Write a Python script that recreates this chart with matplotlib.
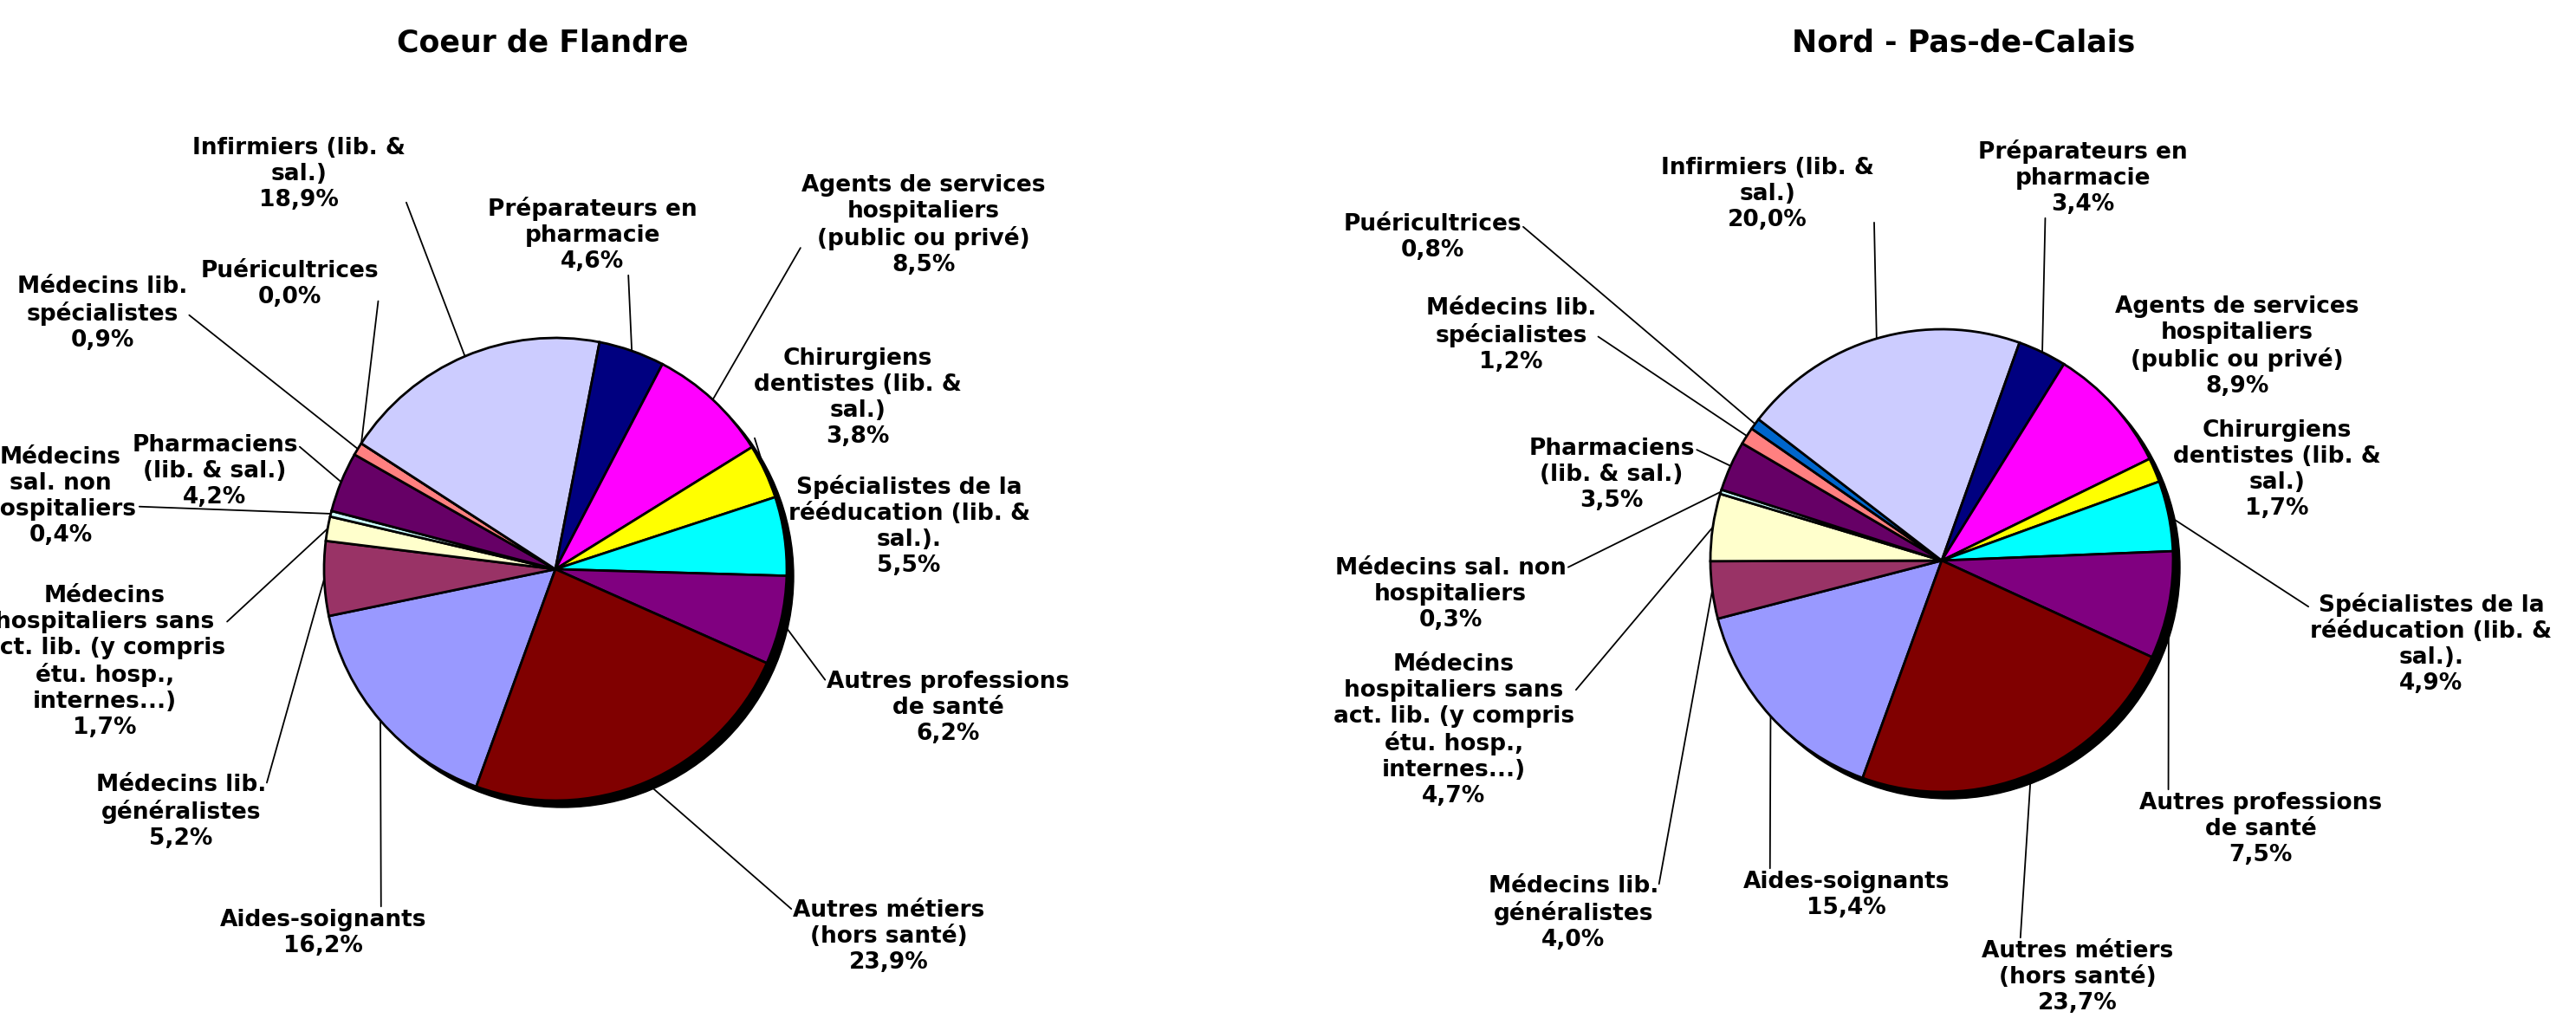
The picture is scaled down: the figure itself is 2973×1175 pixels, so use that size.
import numpy as np
import matplotlib
matplotlib.use('Agg')
import matplotlib.pyplot as plt
from matplotlib.patches import Circle

W, H = 2973, 1175

plt.rcParams['font.family'] = 'DejaVu Sans'

# Same category order in both pies (Excel default palette order)
COLORS = ['#9999FF', '#993366', '#FFFFCC', '#CCFFFF', '#660066', '#FF8080', '#0066CC',
          '#CCCCFF', '#000080', '#FF00FF', '#FFFF00', '#00FFFF', '#800080', '#800000']

labels_cf = [
    'Aides-soignants',
    'Médecins lib.\ngénéralistes',
    'Médecins\nhospitaliers sans\nact. lib. (y compris\nétu. hosp.,\ninternes...)',
    'Médecins\nsal. non\nhospitaliers',
    'Pharmaciens\n(lib. & sal.)',
    'Médecins lib.\nspécialistes',
    'Puéricultrices',
    'Infirmiers (lib. &\nsal.)',
    'Préparateurs en\npharmacie',
    'Agents de services\nhospitaliers\n(public ou privé)',
    'Chirurgiens\ndentistes (lib. &\nsal.)',
    'Spécialistes de la\nrééducation (lib. &\nsal.).',
    'Autres professions\nde santé',
    'Autres métiers\n(hors santé)',
]
labels_npdc = list(labels_cf)
labels_npdc[3] = 'Médecins sal. non\nhospitaliers'

values_cf = [16.2, 5.2, 1.7, 0.4, 4.2, 0.9, 0.0, 18.9, 4.6, 8.5, 3.8, 5.5, 6.2, 23.9]
values_npdc = [15.4, 4.0, 4.7, 0.3, 3.5, 1.2, 0.8, 20.0, 3.4, 8.9, 1.7, 4.9, 7.5, 23.7]

titles = ['Coeur de Flandre', 'Nord - Pas-de-Calais']

# Layout (pixels from top-left): pie centres, label centres, leader attach point on label
centers = [(641, 657), (2241, 647)]
radius = 267
title_pos = [(626, 49), (2266, 49)]

label_pos_cf = [(373, 1077), (209, 937), (121, 764), (70, 573), (248, 544), (118, 362),
                (334, 328), (345, 201), (684, 271), (1066, 260), (990, 459), (1049, 607),
                (1094, 817), (1026, 1081)]
anchors_cf = [(0.78, 1), (1, 0.85), (1, 0.75), (1, 0.4), (1, 0.85), (1, 0.5), (1, 0.2),
              (1, 0.15), (0.67, 0), (0, 0.3), (0, 0.12), None, (0, 0.85), (0, 0.85)]

label_pos_npdc = [(2131, 1033), (1816, 1054), (1678, 843), (1674, 686), (1860, 548),
                  (1744, 387), (1653, 274), (2040, 224), (2404, 205), (2582, 400),
                  (2628, 542), (2806, 743), (2609, 957), (2398, 1128)]
anchors_npdc = [(0.13, 1), (1, 0.85), (1, 0.75), (1, 0.85), (1, 0.85), (1, 0.5), (1, 0.75),
                (1, 0.15), (0.32, 0), None, None, (0, 0.85), (0.12, 1), (0.2, 1)]

FONT = dict(fontsize=19, fontweight='bold', color='black')


def fmt_pct(v):
    return f"{v:.1f}".replace('.', ',') + '%'


def draw_pie(ax, values, labels, center, label_pos, anchors):
    cx, cy = center[0], H - center[1]

    # Excel-like drop shadow behind the pie
    ax.add_patch(Circle((cx + 8, cy - 8), radius, color='black', zorder=0))

    wedges, _ = ax.pie(values, colors=COLORS, startangle=-110, counterclock=False,
                       center=(cx, cy), radius=radius,
                       wedgeprops=dict(edgecolor='black', linewidth=2.0))

    for w, v, lab, pos, anc in zip(wedges, values, labels, label_pos, anchors):
        text = lab + '\n' + fmt_pct(v)
        tx, ty = pos[0], H - pos[1]
        if anc is None:
            ax.text(tx, ty, text, ha='center', va='center', **FONT)
            continue
        theta = np.deg2rad((w.theta1 + w.theta2) / 2)
        xy = (cx + radius * np.cos(theta), cy + radius * np.sin(theta))
        ax.annotate(text, xy=xy, xytext=(tx, ty), ha='center', va='center',
                    arrowprops=dict(arrowstyle='-', color='black', lw=1.3,
                                    relpos=anc, patchA=None, shrinkA=2, shrinkB=0),
                    **FONT)


fig = plt.figure(figsize=(W / 100, H / 100), dpi=100, facecolor='white')
ax = fig.add_axes([0, 0, 1, 1])

draw_pie(ax, values_cf, labels_cf, centers[0], label_pos_cf, anchors_cf)
draw_pie(ax, values_npdc, labels_npdc, centers[1], label_pos_npdc, anchors_npdc)

for t, (x, y) in zip(titles, title_pos):
    ax.text(x, H - y, t, ha='center', va='center', fontsize=25, fontweight='bold')

ax.set_xlim(0, W)
ax.set_ylim(0, H)
ax.set_aspect('equal')
ax.axis('off')

fig.savefig('out.png', dpi=100, facecolor='white')
plt.close()
